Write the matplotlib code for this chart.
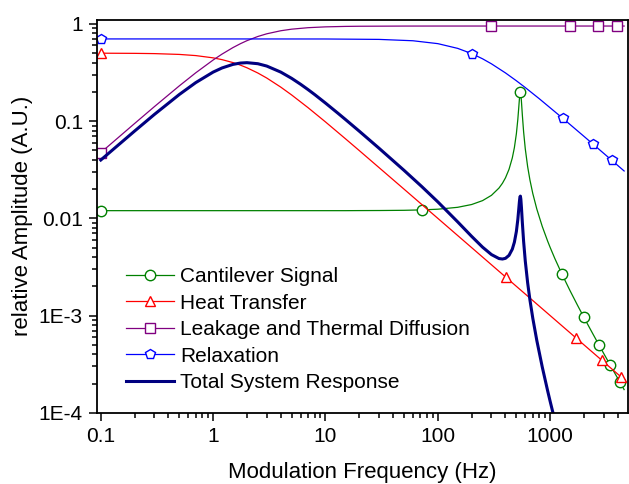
import matplotlib
matplotlib.use("Agg")
import matplotlib.pyplot as plt
from matplotlib.ticker import NullFormatter, LogLocator

plt.rcParams['font.family'] = ['Liberation Sans', 'DejaVu Sans']

# --- data (frequency in Hz, amplitude in A.U.) ---
# cantilever signal and total response share one frequency grid
res_freq = [0.1, 0.2, 0.3, 0.5, 0.7, 1, 1.2, 1.5, 1.75, 2, 2.5, 3, 4, 5, 6, 7,
            8, 10, 13, 15, 20, 30, 50, 72, 100,
            150, 200, 250, 300, 350, 376, 400, 430, 460, 480, 500, 515, 525,
            532, 538, 543, 548, 555, 565, 580, 600, 630, 660, 700, 760, 850,
            950, 1000, 1100, 1275, 1500, 1750, 1985, 2400, 2718, 3000, 3430,
            4150, 4550]
cantilever = [0.012, 0.012, 0.012, 0.012, 0.012, 0.012, 0.012, 0.012, 0.012,
              0.012, 0.012, 0.012, 0.012, 0.012, 0.012, 0.012, 0.012, 0.012,
              0.012, 0.012, 0.01202, 0.01204, 0.0121, 0.01222, 0.01242,
              0.01299, 0.01388, 0.01522, 0.01725, 0.02049, 0.02298, 0.02612,
              0.03192, 0.04182, 0.05337, 0.07416, 0.1039, 0.1376, 0.1685,
              0.1929, 0.2, 0.1895, 0.1581, 0.1158, 0.07752, 0.05201, 0.03399,
              0.02485, 0.01801, 0.01247, 0.008256, 0.005815, 0.005012,
              0.003863, 0.002657, 0.001809, 0.001278, 0.0009705, 0.0006474,
              0.0004989, 0.0004065, 0.0003085, 0.000209, 0.0001734]
total = [0.0398, 0.079, 0.1171, 0.1878, 0.2488, 0.3192, 0.3521, 0.383, 0.3955,
         0.399, 0.3893, 0.3683, 0.3192, 0.2752, 0.2394, 0.2108, 0.1878, 0.1533,
         0.1197, 0.1043, 0.07875, 0.05255, 0.03118, 0.02121, 0.01477,
         0.009212, 0.006526, 0.005058, 0.004243, 0.003862, 0.003818,
         0.003883, 0.004164, 0.004821, 0.005687, 0.007327, 0.009713, 0.01241,
         0.01482, 0.01662, 0.01693, 0.01577, 0.01284, 0.009097, 0.005795,
         0.003646, 0.002171, 0.001452, 0.00094, 0.0005553, 0.0002959,
         0.0001677, 0.0001307, 8.355e-05]
cant_marks = [0.1, 72, 543, 1275, 1985, 2718, 3430, 4150]

heat_freq = [0.1, 0.2, 0.3, 0.5, 0.7, 1, 1.2, 1.5, 1.75, 2, 2.5, 3, 4, 5, 7,
             10, 15, 20, 50, 100, 200, 403, 1000, 1690, 2880, 4300, 4550]
heat = [0.4994, 0.4975, 0.4945, 0.4851, 0.4719, 0.4472, 0.4287, 0.4, 0.3763,
        0.3536, 0.3123, 0.2774, 0.2236, 0.1857, 0.1374, 0.0981, 0.06608,
        0.04975, 0.01998, 0.009998, 0.005, 0.002481, 0.001, 0.0005917,
        0.0003472, 0.0002326, 0.0002198]
heat_marks = [0.1, 403, 1690, 2880, 4300]

leak_freq = [0.1, 0.2, 0.3, 0.5, 0.7, 1, 1.2, 1.5, 1.75, 2, 2.5, 3, 4, 5, 7,
             10, 15, 20, 50, 100, 300, 1000, 1510, 2680, 3900, 4550]
leak = [0.04744, 0.0945, 0.1409, 0.2304, 0.3138, 0.4249, 0.4888, 0.57, 0.6256,
        0.6718, 0.7418, 0.7904, 0.8497, 0.882, 0.9135, 0.9316, 0.9417, 0.9453,
        0.9492, 0.9498, 0.95, 0.95, 0.95, 0.95, 0.95, 0.95]
leak_marks = [0.1, 300, 1510, 2680, 3900]

relax_freq = [0.1, 1, 10, 30, 60, 100, 150, 200, 250, 300, 400, 500, 600, 800,
              1290, 2000, 2380, 3520, 4550]
relax = [0.7, 0.7, 0.6991, 0.6923, 0.6705, 0.6261, 0.56, 0.495, 0.4373,
         0.3883, 0.313, 0.26, 0.2214, 0.1698, 0.1072, 0.06965, 0.0586, 0.0397,
         0.0307]
relax_marks = [0.1, 200, 1290, 2380, 3520]

labels = ["Cantilever Signal", "Heat Transfer",
          "Leakage and Thermal Diffusion", "Relaxation",
          "Total System Response"]
x_ticks = [0.1, 1, 10, 100, 1000]
x_tick_labels = ["0.1", "1", "10", "100", "1000"]
y_ticks = [1e-4, 1e-3, 1e-2, 1e-1, 1]
y_tick_labels = ["1E-4", "1E-3", "0.01", "0.1", "1"]


def marks(freq, wanted):
    return [freq.index(m) for m in wanted]


fig = plt.figure(figsize=(6.29, 4.84), dpi=100)
ax = fig.add_axes([0.154, 0.147, 0.844, 0.812])

thin = dict(lw=0.9, markersize=7.5, markerfacecolor='white', markeredgewidth=1.0)
ax.plot(res_freq, cantilever, color='#008000', marker='o',
        markevery=marks(res_freq, cant_marks), label=labels[0], **thin)
ax.plot(heat_freq, heat, color='#ff0000', marker='^',
        markevery=marks(heat_freq, heat_marks), label=labels[1], **thin)
ax.plot(leak_freq, leak, color='#800080', marker='s',
        markevery=marks(leak_freq, leak_marks), label=labels[2], **thin)
ax.plot(relax_freq, relax, color='#0000ff', marker='p',
        markevery=marks(relax_freq, relax_marks), label=labels[3], **thin)
ax.plot(res_freq[:len(total)], total, color='#000080', lw=2.2, label=labels[4])

ax.set_xscale('log')
ax.set_yscale('log')
ax.set_xlim(0.0923, 4900)
ax.set_ylim(1e-4, 1.1)

ax.set_xticks(x_ticks, x_tick_labels)
ax.set_yticks(y_ticks, y_tick_labels)
ax.xaxis.set_minor_locator(LogLocator(base=10, subs=range(2, 10), numticks=20))
ax.yaxis.set_minor_locator(LogLocator(base=10, subs=range(2, 10), numticks=20))
ax.xaxis.set_minor_formatter(NullFormatter())
ax.yaxis.set_minor_formatter(NullFormatter())
ax.tick_params(which='both', direction='out', top=False, right=False,
               labelsize=15, width=1.1, pad=4)
ax.tick_params(which='major', length=6)
ax.tick_params(which='minor', length=3.5)
for sp in ax.spines.values():
    sp.set_linewidth(1.3)

ax.set_xlabel("Modulation Frequency (Hz)", fontsize=16)
ax.set_ylabel("relative Amplitude (A.U.)", fontsize=16)
ax.xaxis.set_label_coords(0.5, -0.125)
ax.yaxis.set_label_coords(-0.12, 0.5)

ax.legend(loc='center left', bbox_to_anchor=(0.0546, 0.2115), frameon=False,
          fontsize=15, borderpad=0, borderaxespad=0, handlelength=2.3,
          handletextpad=0.3, labelspacing=0.36)

fig.savefig("out.png", dpi=100)
